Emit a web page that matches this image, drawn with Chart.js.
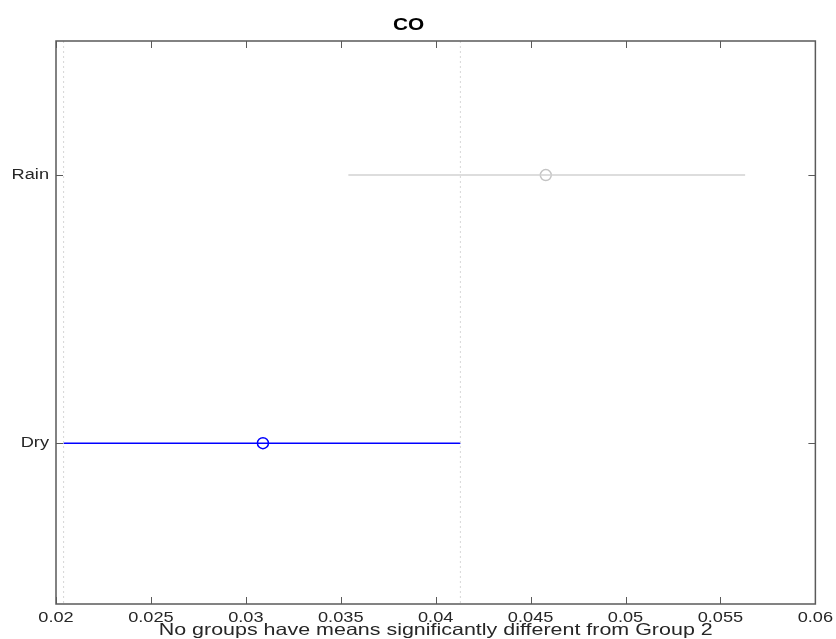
<!DOCTYPE html>
<html>
<head>
<meta charset="utf-8">
<script src="https://cdn.jsdelivr.net/npm/chart.js@4/dist/chart.umd.min.js"></script>
<style>
  html, body { margin: 0; padding: 0; background: #ffffff; }
  #wrap { width: 836px; height: 639px; }
</style>
</head>
<body>
<div id="wrap"><canvas id="grafico"></canvas></div>
<script>
// Datos (intervalos de comparación)
const grupos = ['Rain', 'Dry'];
const posiciones = [1, 2];
const medias = [0.0458, 0.0309];
const inferiores = [0.0354, 0.0204];
const superiores = [0.0563, 0.0413];
const colores = ['#d2d2d2', '#0000ff'];
const grupoRef = 1; // Dry (Group 2)
const xTicks = [0.02, 0.025, 0.03, 0.035, 0.04, 0.045, 0.05, 0.055, 0.06];

const datasets = [];

// Líneas punteadas en los límites del grupo de referencia
[inferiores[grupoRef], superiores[grupoRef]].forEach(v => {
    datasets.push({
        type: 'scatter',
        data: [{ x: v, y: 0.5 }, { x: v, y: 2.6 }],
        showLine: true,
        borderColor: '#d6d6d6',
        borderWidth: 1,
        borderDash: [2, 3],
        pointRadius: 0
    });
});

// Intervalos y medias
grupos.forEach((g, i) => {
    datasets.push({
        type: 'scatter',
        data: [{ x: inferiores[i], y: posiciones[i] }, { x: superiores[i], y: posiciones[i] }],
        showLine: true,
        borderColor: colores[i],
        borderWidth: 1.5,
        pointRadius: 0
    });
    datasets.push({
        type: 'scatter',
        data: [{ x: medias[i], y: posiciones[i] }],
        pointRadius: 5.5,
        pointBorderWidth: 1.5,
        pointBorderColor: i === grupoRef ? colores[i] : '#c4c4c4',
        pointBackgroundColor: 'rgba(0,0,0,0)'
    });
});

// El texto del original está algo estirado en horizontal
const canvas = document.getElementById('grafico');
const ctx2d = canvas.getContext('2d');
const fillTextOriginal = ctx2d.fillText;
ctx2d.fillText = function (texto, x, y, maxW) {
    this.save();
    this.translate(x, y);
    this.scale(1.3, 1);
    fillTextOriginal.call(this, texto, 0, 0);
    this.restore();
};

// Marco y marcas hacia adentro (estilo MATLAB)
const marcoPlugin = {
    id: 'marco',
    afterDraw(chart) {
        const { ctx, chartArea: a, scales } = chart;
        ctx.save();
        ctx.strokeStyle = '#5a5a5a';
        ctx.lineWidth = 1.5;
        ctx.strokeRect(a.left, a.top, a.right - a.left, a.bottom - a.top);
        ctx.lineWidth = 1;
        ctx.beginPath();
        xTicks.forEach(v => {
            const px = Math.round(scales.x.getPixelForValue(v)) + 0.5;
            ctx.moveTo(px, a.bottom); ctx.lineTo(px, a.bottom - 7);
            ctx.moveTo(px, a.top); ctx.lineTo(px, a.top + 7);
        });
        posiciones.forEach(v => {
            const py = Math.round(scales.y.getPixelForValue(v)) + 0.5;
            ctx.moveTo(a.left, py); ctx.lineTo(a.left + 7, py);
            ctx.moveTo(a.right, py); ctx.lineTo(a.right - 7, py);
        });
        ctx.stroke();
        ctx.restore();
    }
};

Chart.defaults.font.family = "Arial, 'Liberation Sans', Helvetica, sans-serif";

new Chart(canvas, {
    data: { datasets },
    options: {
        responsive: true,
        maintainAspectRatio: false,
        animation: false,
        layout: { padding: { left: 0, right: 19, top: 0, bottom: 0 } },
        plugins: {
            legend: { display: false },
            tooltip: { enabled: false },
            title: {
                display: true,
                text: 'CO',
                color: '#000000',
                font: { size: 16, weight: 'bold', lineHeight: 1.2 },
                padding: { top: 16, bottom: 5.8 }
            }
        },
        scales: {
            x: {
                type: 'linear',
                min: 0.02,
                max: 0.06,
                afterBuildTicks: s => { s.ticks = xTicks.map(v => ({ value: v })); },
                afterFit: s => { s.height = 35; },
                grid: { display: false, drawTicks: false },
                border: { display: false },
                ticks: {
                    color: '#262626',
                    font: { size: 14, lineHeight: 1 },
                    padding: 7,
                    maxRotation: 0,
                    autoSkip: false,
                    callback: v => String(Number(v.toFixed(3)))
                },
                title: {
                    display: true,
                    text: 'No groups have means significantly different from Group 2',
                    color: '#262626',
                    font: { size: 16.5, lineHeight: 1 },
                    padding: { top: 0, bottom: 0 }
                }
            },
            y: {
                type: 'linear',
                reverse: true,
                min: 0.5,
                max: 2.6,
                afterBuildTicks: s => { s.ticks = posiciones.map(v => ({ value: v })); },
                afterFit: s => { s.width = 56; },
                grid: { display: false, drawTicks: false },
                border: { display: false },
                ticks: {
                    color: '#262626',
                    font: { size: 14 },
                    padding: 7,
                    callback: v => grupos[posiciones.indexOf(v)] || ''
                }
            }
        }
    },
    plugins: [marcoPlugin]
});
</script>
</body>
</html>
